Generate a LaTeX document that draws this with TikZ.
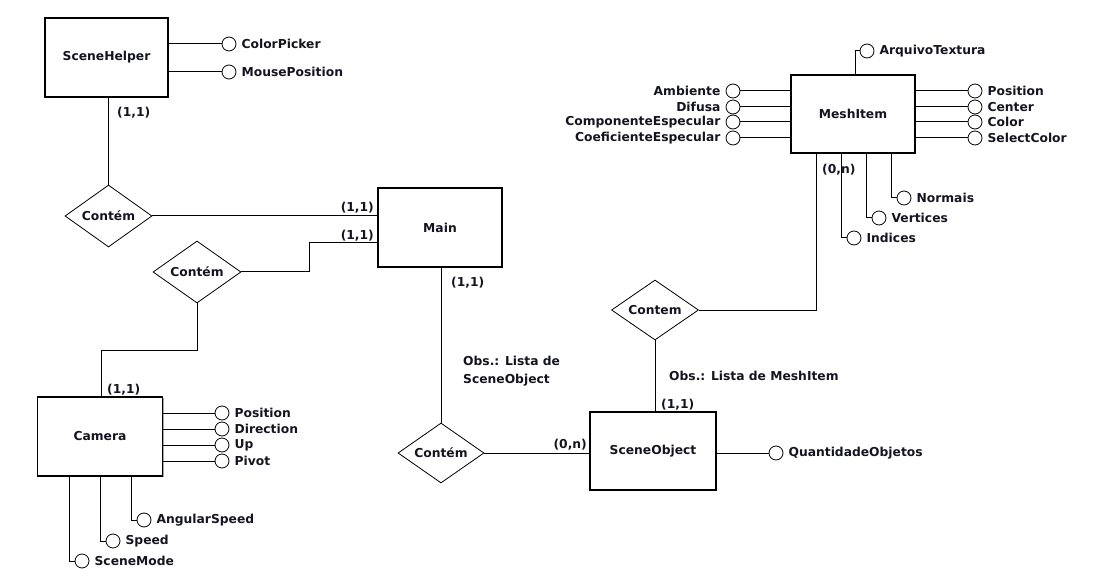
\documentclass[tikz,border=0pt]{standalone}
\usepackage{fontspec}
\setmainfont{DejaVu Sans}
\usetikzlibrary{shapes.geometric,shadows}
\definecolor{txt}{HTML}{141420}
\begin{document}
\begin{tikzpicture}[x=1pt,y=-1pt,
  every node/.style={font=\fontsize{12.3}{17.5}\selectfont\bfseries, text=txt},
  entity/.style={draw, line width=1.3pt, fill=white, inner sep=0,
    drop shadow={shadow xshift=1.3pt,shadow yshift=-1.3pt,fill=black!35,opacity=1}},
  rel/.style={draw, diamond, inner sep=0, aspect=1.4, line width=0.8pt, fill=white},
  attr/.style={draw, circle, minimum size=14pt, inner sep=0, line width=0.8pt, fill=white},
  rlab/.style={label={[inner sep=0,label distance=5pt]right:#1}},
  llab/.style={label={[inner sep=0,label distance=5pt]left:#1}},
  conn/.style={line width=1pt},
  card/.style={inner sep=0}]
\useasboundingbox (0,0) rectangle (1101,588);

% entities
\node[entity, minimum width=123pt, minimum height=79pt] (sh) at (106.5,57.5) {SceneHelper};
\node[entity, minimum width=124pt, minimum height=79pt] (main) at (440,227.5) {Main};
\node[entity, minimum width=125pt, minimum height=79pt] (cam) at (100,436.5) {Camera};
\node[entity, minimum width=126pt, minimum height=78pt] (so) at (653,451) {SceneObject};
\node[entity, minimum width=124pt, minimum height=78pt] (mesh) at (853,114) {MeshItem};

% relationships
\node[rel, minimum width=87pt, minimum height=62pt] (d1) at (108.5,216) {Contém};
\node[rel, minimum width=88pt, minimum height=62pt] (d2) at (197,272) {Contém};
\node[rel, minimum width=86pt, minimum height=60pt] (d3) at (441,453) {Contém};
\node[rel, minimum width=87pt, minimum height=60pt] (d4) at (655,310) {Contem};

% attributes SceneHelper
\node[attr, rlab=ColorPicker] (cp) at (229,44) {};
\node[attr, rlab=MousePosition] (mp) at (229,72) {};
% attributes Camera
\node[attr, rlab=Position] (cpos) at (222,413) {};
\node[attr, rlab=Direction] (cdir) at (222,429) {};
\node[attr, rlab=Up] (cup) at (222,445) {};
\node[attr, rlab=Pivot] (cpiv) at (222,461) {};
\node[attr, rlab=SceneMode] (csm) at (82,561) {};
\node[attr, rlab=Speed] (csp) at (113,541) {};
\node[attr, rlab=AngularSpeed] (cas) at (144,520) {};
% attributes SceneObject
\node[attr, rlab=QuantidadeObjetos] (qo) at (776,453) {};
% attributes MeshItem
\node[attr, llab=Ambiente] (amb) at (733,91) {};
\node[attr, llab=Difusa] (dif) at (733,107) {};
\node[attr, llab=ComponenteEspecular] (ce) at (733,122) {};
\node[attr, llab=CoeficienteEspecular] (coe) at (733,138) {};
\node[attr, rlab=Position] (mpos) at (975,91) {};
\node[attr, rlab=Center] (mcen) at (975,107) {};
\node[attr, rlab=Color] (mcol) at (975,122) {};
\node[attr, rlab=SelectColor] (msel) at (975,138) {};
\node[attr, rlab=ArquivoTextura] (arq) at (867,51) {};
\node[attr, rlab=Normais] (nor) at (904,198) {};
\node[attr, rlab=Vertices] (ver) at (879,218) {};
\node[attr, rlab=Indices] (ind) at (854,238) {};

% relationship connectors
\draw[conn] (d1.north) -- (d1.north |- sh.south);
\draw[conn] (d1.east) -- (main.west |- d1.east);
\draw[conn] (d2.east) -- ++(68,0) |- ([yshift=-15.5pt]main.west);
\draw[conn] (d2.south) -- ++(0,47) -| ([xshift=1pt]cam.north);
\draw[conn] (d3.north) -- (d3.north |- main.south);
\draw[conn] (d3.east) -- (so.west |- d3.east);
\draw[conn] (d4.south) -- (d4.south |- so.north);
\draw[conn] (d4.east) -| ([xshift=-37pt]mesh.south);

% attribute connectors
\foreach \a in {cp,mp} \draw[conn] (sh.east |- \a) -- (\a.west);
\foreach \a in {cpos,cdir,cup,cpiv} \draw[conn] (cam.east |- \a) -- (\a.west);
\draw[conn] ([xshift=-31pt]cam.south) |- (csm.west);
\draw[conn] (cam.south) |- (csp.west);
\draw[conn] ([xshift=31pt]cam.south) |- (cas.west);
\draw[conn] (so.east |- qo) -- (qo.west);
\foreach \a in {amb,dif,ce,coe} \draw[conn] (mesh.west |- \a) -- (\a.east);
\foreach \a in {mpos,mcen,mcol,msel} \draw[conn] (mesh.east |- \a) -- (\a.west);
\draw[conn] ([xshift=2pt]mesh.north) |- (arq.west);
\draw[conn] ([xshift=38pt]mesh.south) |- (nor.west);
\draw[conn] ([xshift=13pt]mesh.south) |- (ver.west);
\draw[conn] ([xshift=-12pt]mesh.south) |- (ind.west);

% cardinalities
\node[card, anchor=west] (k1) at (117,113) {(1,1)};
\node[card, anchor=east] (k2) at (374,208) {(1,1)};
\node[card, anchor=east] (k3) at (374,236) {(1,1)};
\node[card, anchor=west] (k4) at (451,283) {(1,1)};
\node[card, anchor=west] (k5) at (107,390) {(1,1)};
\node[card, anchor=east] (k6) at (587,445) {(0,n)};
\node[card, anchor=west] (k7) at (661,405) {(1,1)};
\node[card, anchor=west] (k8) at (822,170) {(0,n)};

% notes
\node[card, anchor=west, align=left] (obs1) at (463,371) {Obs.: Lista de\\SceneObject};
\node[card, anchor=west] (obs2) at (669,376) {Obs.: Lista de MeshItem};
\end{tikzpicture}
\end{document}
